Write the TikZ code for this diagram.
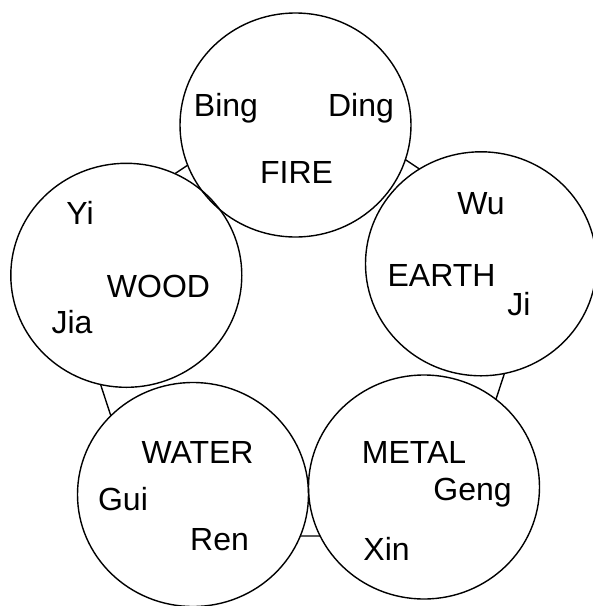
\documentclass[tikz,border=0pt]{standalone}
\usepackage{fontspec}
\setmainfont{Liberation Sans}
\usetikzlibrary{shapes.geometric}

\begin{document}
\begin{tikzpicture}[
  x=1pt,y=-1pt,
  phase/.style={ellipse,fill=white,minimum width=231pt,minimum height=224pt,inner sep=0pt},
  rim/.style={line width=1.4pt},
  lbl/.style={anchor=base,inner sep=0pt,font=\fontsize{32}{36}\selectfont}
]
\useasboundingbox (0,0) rectangle (593,606);
% pentagon behind the circles
\coordinate (p1) at (300.7,90);
\coordinate (p2) at (57.2,252);
\coordinate (p3) at (150.2,536);
\coordinate (p4) at (451.2,536);
\coordinate (p5) at (544.2,252);
\draw[rim] (p1)--(p2)--(p3)--(p4)--(p5)--cycle;
% the five phases
\node[phase] (fire) at (295.5,125) {};
\node[phase] (wood) at (126.3,275.3) {};
\node[phase] (earth) at (481,263.8) {};
\node[phase] (metal) at (424,487) {};
\node[phase] (water) at (193,494.5) {};
\foreach \n in {fire,wood,earth,metal,water}
  \draw[rim] (\n.center) ellipse [x radius=115.5pt,y radius=112pt];
% labels
\node[lbl] (bing) at (226,116) {Bing};
\node[lbl] (ding) at (361,116) {Ding};
\node[lbl] (firelbl) at (296.5,183.6) {FIRE};
\node[lbl] (yi) at (80,224) {Yi};
\node[lbl] (woodlbl) at (158.5,297.6) {WOOD};
\node[lbl] (jia) at (72,333) {Jia};
\node[lbl] (wu) at (481,214.5) {Wu};
\node[lbl] (earthlbl) at (441.5,286) {EARTH};
\node[lbl] (ji) at (519,315) {Ji};
\node[lbl] (metallbl) at (414,463) {METAL};
\node[lbl] (geng) at (472.5,500.5) {Geng};
\node[lbl] (xin) at (386.6,560) {Xin};
\node[lbl] (waterlbl) at (197.5,463.8) {WATER};
\node[lbl] (gui) at (123,510) {Gui};
\node[lbl] (ren) at (219.5,550.7) {Ren};
\end{tikzpicture}
\end{document}
